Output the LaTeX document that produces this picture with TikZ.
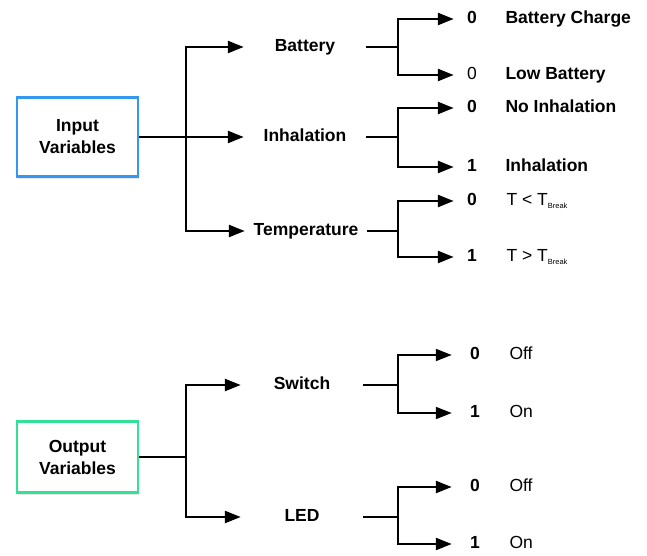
\documentclass[tikz,border=0pt]{standalone}
\usepackage{fontspec}
\setmainfont{Liberation Sans}
\usetikzlibrary{positioning,arrows.meta,shadows}
\definecolor{inblue}{RGB}{52,152,240}
\definecolor{outgreen}{RGB}{50,225,150}
\newcommand{\brk}{\textsubscript{\fontsize{7.5}{8}\selectfont Break}}

\begin{document}
\begin{tikzpicture}[
  x=1pt, y=-1pt,
  >={Triangle[length=16pt,width=12pt]},
  line width=2.5pt,
  every node/.style={font=\fontsize{17.5}{20}\selectfont\bfseries, inner sep=0pt, text height=12pt, text depth=3pt},
  varbox/.style={draw, line width=2.6pt, minimum width=121pt, align=center, fill=white,
    text height=, text depth=, font=\fontsize{17.5}{22}\selectfont\bfseries,
    drop shadow={opacity=0.2, shadow xshift=0.5pt, shadow yshift=-2.5pt}},
  cat/.style={minimum width=120pt},
  val/.style={minimum width=34pt},
  reg/.style={font=\fontsize{17.5}{20}\selectfont}
]
  \useasboundingbox (0,0) rectangle (647,556);

  % inputs
  \node[varbox, draw=inblue, minimum height=79pt] (in) at (77.5,137) {Input\\Variables};
  \coordinate (jin) at (186,137);
  \node[cat] (bat) at (305,47) {Battery};
  \node[cat] (inh) at (305,137) {Inhalation};
  \node[cat] (tmp) at (306,231) {Temperature};

  \draw (in.east) -- (jin);
  \draw[->] (jin) |- (bat.west);
  \draw[->] (jin) -- (inh.west);
  \draw[->] (jin) |- (tmp.west);

  \node[val] (b0) at (472,19) {0};
  \node[right=14pt of b0] (b0t) {Battery Charge};
  \node[val, reg] (b1) at (472,75) {0};
  \node[right=14pt of b1] (b1t) {Low Battery};
  \coordinate (jbat) at (398,47);
  \draw (bat.east) -- (jbat);
  \draw[->] (jbat) |- (b0.west);
  \draw[->] (jbat) |- (b1.west);

  \node[val] (i0) at (472,108) {0};
  \node[right=14pt of i0] (i0t) {No Inhalation};
  \node[val] (i1) at (472,167) {1};
  \node[right=14pt of i1] (i1t) {Inhalation};
  \coordinate (jinh) at (398,137);
  \draw (inh.east) -- (jinh);
  \draw[->] (jinh) |- (i0.west);
  \draw[->] (jinh) |- (i1.west);

  \node[val] (t0) at (472,201) {0};
  \node[right=15pt of t0, reg] (t0t) {T < T\brk};
  \node[val] (t1) at (472,257) {1};
  \node[right=15pt of t1, reg] (t1t) {T > T\brk};
  \coordinate (jtmp) at (398,231);
  \draw (tmp.east) -- (jtmp);
  \draw[->] (jtmp) |- (t0.west);
  \draw[->] (jtmp) |- (t1.west);

  % outputs
  \node[varbox, draw=outgreen, minimum height=71pt] (out) at (77.5,457) {Output\\Variables};
  \coordinate (jout) at (186,457);
  \node[cat] (sw) at (302,385) {Switch};
  \node[cat] (led) at (302,517) {LED};

  \draw (out.east) -- (jout);
  \draw[->] (jout) |- (sw.west);
  \draw[->] (jout) |- (led.west);

  \node[val, minimum width=44pt] (s0) at (475,355) {0};
  \node[right=10pt of s0, reg] (s0t) {Off};
  \node[val, minimum width=44pt] (s1) at (475,413) {1};
  \node[right=10pt of s1, reg] (s1t) {On};
  \coordinate (jsw) at (398,385);
  \draw[line width=1.8pt] (sw.east) -- (jsw);
  \draw[->, line width=1.8pt] (jsw) |- (s0.west);
  \draw[->, line width=1.8pt] (jsw) |- (s1.west);

  \node[val, minimum width=44pt] (l0) at (475,487) {0};
  \node[right=10pt of l0, reg] (l0t) {Off};
  \node[val, minimum width=44pt] (l1) at (475,544) {1};
  \node[right=10pt of l1, reg] (l1t) {On};
  \coordinate (jled) at (398,517);
  \draw (led.east) -- (jled);
  \draw[->] (jled) |- (l0.west);
  \draw[->] (jled) |- (l1.west);
\end{tikzpicture}
\end{document}
